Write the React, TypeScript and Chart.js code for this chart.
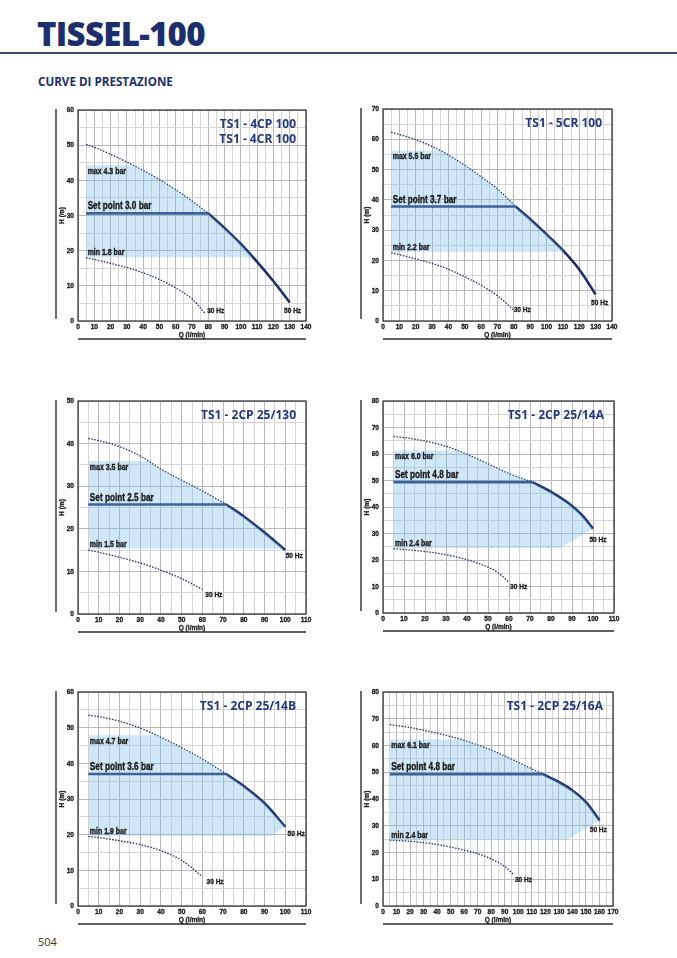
import { useEffect, useRef } from "react";
import { Chart, registerables } from "chart.js";

Chart.register(...registerables);

const NAVY = "#1c2e6c";
const TITLE_BLUE = "#22397c";
const SHADE = "rgba(125, 188, 235, 0.36)";
const BASE = "'Liberation Sans', Arial, sans-serif";
const WIDE = "'Open Sans', 'Noto Sans', sans-serif";
const SQUEEZE = 0.82; // Arial Narrow is Arial at ~82% width

// ---- TS1 - 4CP 100 / 4CR 100
const q50_1 = [5, 10, 20, 30, 40, 50, 60, 70, 80, 90, 100, 110, 120, 130];
const h50_1 = [50.2, 49.4, 47.4, 45.2, 42.8, 40.2, 37.3, 34.1, 30.6, 26.4, 21.9, 16.8, 11.3, 5.3];
const q30_1 = [5, 10, 20, 30, 40, 50, 60, 70, 78];
const h30_1 = [18, 17.5, 16.4, 15.2, 13.7, 11.8, 9.4, 6.3, 2.2];

// ---- TS1 - 5CR 100
const q50_2 = [5, 10, 20, 30, 40, 50, 60, 70, 81, 90, 100, 110, 120, 130];
const h50_2 = [62.3, 61.6, 59.9, 57.6, 54.8, 51.4, 47.6, 43.6, 37.8, 33.6, 28.6, 23.3, 17.0, 8.8];
const q30_2 = [5, 10, 20, 30, 40, 50, 60, 70, 80];
const h30_2 = [22.5, 21.9, 20.5, 19, 17.1, 14.6, 11.8, 8.3, 3.6];

// ---- TS1 - 2CP 25/130
const q50_3 = [5, 10, 20, 30, 40, 50, 60, 71.5, 80, 90, 100];
const h50_3 = [41.2, 40.7, 39.3, 37.1, 34.0, 31.4, 28.9, 25.7, 22.9, 19.1, 15];
const q30_3 = [5, 10, 20, 30, 40, 50, 60];
const h30_3 = [15, 14.5, 13.3, 12, 10.3, 8.3, 5.8];

// ---- TS1 - 2CP 25/14A
const q50_4 = [5, 10, 20, 30, 40, 50, 60, 71, 80, 90, 95, 100];
const h50_4 = [66.6, 66.2, 64.9, 62.9, 59.9, 56.3, 52.6, 49.4, 45.7, 40.4, 36.7, 31.8];
const q30_4 = [5, 10, 20, 30, 40, 50, 55, 60];
const h30_4 = [24.3, 24, 23.2, 22, 20.1, 17.3, 15.1, 11.6];

// ---- TS1 - 2CP 25/14B
const q50_5 = [5, 10, 20, 30, 40, 50, 60, 71.5, 80, 90, 100];
const h50_5 = [53.5, 53.1, 51.8, 49.9, 47.3, 44.4, 41.2, 37, 33.6, 28.8, 22.2];
const q30_5 = [5, 10, 20, 30, 40, 50, 60];
const h30_5 = [19.5, 19.2, 18.3, 17.2, 15.5, 12.8, 8.2];

// ---- TS1 - 2CP 25/16A
const q50_6 = [5, 20, 40, 60, 80, 100, 118, 130, 140, 150, 160];
const h50_6 = [67.8, 66.7, 64.6, 61.9, 58.3, 53.7, 49.3, 46.3, 43.2, 38.8, 32];
const q30_6 = [5, 20, 40, 60, 70, 80, 90, 96];
const h30_6 = [24.6, 24.2, 23, 20.9, 19.6, 17.6, 14.8, 12];

type PanelDef = {
  title: string[];
  xMax: number;
  yMax: number;
  q50: number[];
  h50: number[];
  q30: number[];
  h30: number[];
  setPoint: number;
  breakQ: number;
  maxLevel: number;
  minLevel: number;
  cornerQ: number | null;
  maxText: string;
  setText: string;
  minText: string;
  hz30: [number, number];
  hz50: [number, number];
};

const PANELS: PanelDef[] = [
  {
    title: ["TS1 - 4CP 100", "TS1 - 4CR 100"],
    xMax: 140, yMax: 60, q50: q50_1, h50: h50_1, q30: q30_1, h30: h30_1,
    setPoint: 30.6, breakQ: 80, maxLevel: 44.3, minLevel: 18.1, cornerQ: null,
    maxText: "max 4.3 bar", setText: "Set point 3.0 bar", minText: "min 1.8 bar",
    hz30: [79.3, 2.2], hz50: [126.5, 2.2],
  },
  {
    title: ["TS1 - 5CR 100"],
    xMax: 140, yMax: 70, q50: q50_2, h50: h50_2, q30: q30_2, h30: h30_2,
    setPoint: 37.8, breakQ: 81, maxLevel: 56.2, minLevel: 22.9, cornerQ: null,
    maxText: "max 5.5 bar", setText: "Set point 3.7 bar", minText: "min 2.2 bar",
    hz30: [79.9, 2.9], hz50: [127.2, 5.4],
  },
  {
    title: ["TS1 - 2CP 25/130"],
    xMax: 110, yMax: 50, q50: q50_3, h50: h50_3, q30: q30_3, h30: h30_3,
    setPoint: 25.7, breakQ: 71.5, maxLevel: 35.9, minLevel: 15.3, cornerQ: null,
    maxText: "max 3.5 bar", setText: "Set point 2.5 bar", minText: "min 1.5 bar",
    hz30: [61.4, 4.1], hz50: [100.2, 13.2],
  },
  {
    title: ["TS1 - 2CP 25/14A"],
    xMax: 110, yMax: 80, q50: q50_4, h50: h50_4, q30: q30_4, h30: h30_4,
    setPoint: 49.4, breakQ: 71, maxLevel: 61.3, minLevel: 24.5, cornerQ: 84.5,
    maxText: "max 6.0 bar", setText: "Set point 4.8 bar", minText: "min 2.4 bar",
    hz30: [60.5, 9.2], hz50: [98.3, 26.8],
  },
  {
    title: ["TS1 - 2CP 25/14B"],
    xMax: 110, yMax: 60, q50: q50_5, h50: h50_5, q30: q30_5, h30: h30_5,
    setPoint: 37, breakQ: 71.5, maxLevel: 47.9, minLevel: 19.7, cornerQ: 93.5,
    maxText: "max 4.7 bar", setText: "Set point 3.6 bar", minText: "min 1.9 bar",
    hz30: [62, 6.2], hz50: [101.1, 19.7],
  },
  {
    title: ["TS1 - 2CP 25/16A"],
    xMax: 170, yMax: 80, q50: q50_6, h50: h50_6, q30: q30_6, h30: h30_6,
    setPoint: 49.3, breakQ: 118, maxLevel: 62.2, minLevel: 24.7, cornerQ: 135.5,
    maxText: "max 6.1 bar", setText: "Set point 4.8 bar", minText: "min 2.4 bar",
    hz30: [97.5, 9.1], hz50: [152.8, 27.6],
  },
];

// plot areas on the page
const FRAMES = [
  { left: 78, top: 110, right: 306, bottom: 321 },
  { left: 383, top: 109, right: 612, bottom: 321 },
  { left: 78, top: 401, right: 306, bottom: 614 },
  { left: 383, top: 401, right: 614, bottom: 613 },
  { left: 78, top: 692, right: 306, bottom: 906 },
  { left: 383, top: 692, right: 613, bottom: 906 },
];

const font = (size: number) => `bold ${size}px ${BASE}`;

const pts = (q: number[], h: number[]) => q.map((v, i) => ({ x: v, y: h[i] }));

function shadeTop(q: number[], h: number[], hi: number, lo: number) {
  const out = [{ x: q[0], y: Math.min(hi, h[0]) }];
  for (let i = 1; i < q.length; i++) {
    const a = h[i - 1];
    const b = h[i];
    if (a > hi && b <= hi) {
      out.push({ x: q[i - 1] + ((q[i] - q[i - 1]) * (a - hi)) / (a - b), y: hi });
    }
    if (b < lo) {
      out.push({ x: q[i - 1] + ((q[i] - q[i - 1]) * (a - lo)) / (a - b), y: lo });
      break;
    }
    if (b <= hi) out.push({ x: q[i], y: b });
  }
  return out;
}

function shadeBottom(q: number[], h: number[], lo: number, cornerQ: number | null) {
  const last = q.length - 1;
  if (cornerQ === null) {
    for (let i = 1; i < q.length; i++) {
      if (h[i] < lo) {
        const cx = q[i - 1] + ((q[i] - q[i - 1]) * (h[i - 1] - lo)) / (h[i - 1] - h[i]);
        return [{ x: q[0], y: lo }, { x: cx, y: lo }];
      }
    }
    return [{ x: q[0], y: lo }, { x: q[last], y: lo }];
  }
  return [
    { x: q[0], y: lo },
    { x: cornerQ, y: lo },
    { x: q[last], y: h[last] },
  ];
}

// narrow heavy text: Liberation Sans squeezed horizontally, lightly stroked
function narrow(ctx: CanvasRenderingContext2D, text: string, x: number, y: number, align: CanvasTextAlign, baseline: CanvasTextBaseline) {
  ctx.save();
  ctx.translate(x, y);
  ctx.scale(SQUEEZE, 1);
  ctx.textAlign = align;
  ctx.textBaseline = baseline;
  ctx.strokeStyle = ctx.fillStyle as string;
  ctx.lineWidth = 0.35;
  ctx.fillText(text, 0, 0);
  ctx.strokeText(text, 0, 0);
  ctx.restore();
}

const decor = (p: PanelDef) => ({
  id: "decor",
  afterDraw(chart: any) {
    const { ctx, chartArea: a } = chart;
    const x = chart.scales.x;
    const y = chart.scales.y;
    ctx.save();
    ctx.strokeStyle = "#2b2b2b";
    ctx.lineWidth = 1.2;
    ctx.strokeRect(a.left, a.top, a.right - a.left, a.bottom - a.top);

    ctx.strokeStyle = "#4a4a4a";
    ctx.lineWidth = 1.6;
    ctx.beginPath();
    ctx.moveTo(a.left - 22, a.top - 1);
    ctx.lineTo(a.left - 22, a.bottom - 2);
    ctx.stroke();
    ctx.strokeStyle = "#2b2b2b";
    ctx.beginPath();
    ctx.moveTo(a.left, a.bottom + 18);
    ctx.lineTo(a.right, a.bottom + 18);
    ctx.stroke();

    // tick labels taken from the scales' own ticks
    ctx.fillStyle = "#1a1a1a";
    ctx.font = font(8);
    x.ticks.forEach((t: any) => {
      if (t.label) narrow(ctx, String(t.label), x.getPixelForValue(t.value), a.bottom + 1.5, "center", "top");
    });
    y.ticks.forEach((t: any) => {
      if (t.label) narrow(ctx, String(t.label), a.left - 4, y.getPixelForValue(t.value), "right", "middle");
    });

    narrow(ctx, "Q (l/min)", (a.left + a.right) / 2, a.bottom + 13.5, "center", "middle");
    ctx.save();
    ctx.translate(a.left - 16.5, (a.top + a.bottom) / 2);
    ctx.rotate(-Math.PI / 2);
    narrow(ctx, "H (m)", 0, 0, "center", "middle");
    ctx.restore();

    ctx.fillStyle = TITLE_BLUE;
    ctx.font = `bold 12px ${WIDE}`;
    ctx.textAlign = "right";
    ctx.textBaseline = "alphabetic";
    p.title.forEach((t, i) => ctx.fillText(t, a.right - 10, a.top + 18 + i * 15));

    ctx.fillStyle = "#1a1a1a";
    const lx = x.getPixelForValue(p.q50[0]) + 1.5;
    ctx.font = font(8.5);
    narrow(ctx, p.maxText, lx, y.getPixelForValue(p.maxLevel) + 8.5, "left", "alphabetic");
    narrow(ctx, p.minText, lx, y.getPixelForValue(p.minLevel) - 2, "left", "alphabetic");
    ctx.font = font(8);
    narrow(ctx, "30 Hz", x.getPixelForValue(p.hz30[0]), y.getPixelForValue(p.hz30[1]), "left", "alphabetic");
    narrow(ctx, "50 Hz", x.getPixelForValue(p.hz50[0]), y.getPixelForValue(p.hz50[1]), "left", "alphabetic");
    ctx.font = font(10);
    narrow(ctx, p.setText, lx, y.getPixelForValue(p.setPoint) - 4, "left", "alphabetic");
    ctx.restore();
  },
});

function Panel({ def, frame }: { def: PanelDef; frame: (typeof FRAMES)[number] }) {
  const canvasRef = useRef<HTMLCanvasElement>(null);

  useEffect(() => {
    if (!canvasRef.current) return;
    const p = def;
    const curve = pts(p.q50, p.h50);
    const dotted50 = curve.filter((d) => d.x <= p.breakQ);
    const solid50 = curve.filter((d) => d.x >= p.breakQ);
    const gridColor = (c: any) => (c.tick && c.tick.value % 10 === 0 ? "#b8b8b8" : "#d6d6d6");
    const tenLabel = (v: any) => (Number(v) % 10 === 0 ? String(v) : "");

    const chart = new Chart(canvasRef.current, {
      type: "line",
      data: {
        datasets: [
          {
            data: shadeTop(p.q50, p.h50, p.maxLevel, p.minLevel),
            borderWidth: 0,
            pointRadius: 0,
            backgroundColor: SHADE,
            fill: "+1",
          },
          {
            data: shadeBottom(p.q50, p.h50, p.minLevel, p.cornerQ),
            borderWidth: 0,
            pointRadius: 0,
            fill: false,
          },
          {
            data: dotted50,
            borderColor: NAVY,
            borderWidth: 1.3,
            borderDash: [1.5, 1.5],
            pointRadius: 0,
            cubicInterpolationMode: "monotone",
            fill: false,
          },
          {
            data: [
              { x: p.q50[0], y: p.setPoint },
              { x: p.breakQ, y: p.setPoint },
            ],
            borderColor: NAVY,
            borderWidth: 2.6,
            pointRadius: 0,
            fill: false,
          },
          {
            data: solid50,
            borderColor: NAVY,
            borderWidth: 2.6,
            pointRadius: 0,
            cubicInterpolationMode: "monotone",
            fill: false,
          },
          {
            data: pts(p.q30, p.h30),
            borderColor: NAVY,
            borderWidth: 1.3,
            borderDash: [1.5, 1.5],
            pointRadius: 0,
            cubicInterpolationMode: "monotone",
            fill: false,
          },
        ],
      },
      options: {
        responsive: true,
        maintainAspectRatio: false,
        animation: false,
        layout: { padding: { left: 28, top: 12, right: 12, bottom: 10 } },
        plugins: { legend: { display: false }, tooltip: { enabled: false } },
        scales: {
          x: {
            type: "linear",
            min: 0,
            max: p.xMax,
            afterFit: (s: any) => {
              s.height = 12;
            },
            border: { display: false },
            grid: { color: gridColor, lineWidth: 1, drawTicks: false },
            ticks: { stepSize: 5, autoSkip: false, display: false, callback: tenLabel },
          },
          y: {
            type: "linear",
            min: 0,
            max: p.yMax,
            afterFit: (s: any) => {
              s.width = 22;
            },
            border: { display: false },
            grid: { color: gridColor, lineWidth: 1, drawTicks: false },
            ticks: { stepSize: 5, autoSkip: false, display: false, callback: tenLabel },
          },
        },
      },
      plugins: [decor(p)],
    });

    return () => chart.destroy();
  }, [def]);

  const w = frame.right - frame.left + 62;
  const h = frame.bottom - frame.top + 34;
  return (
    <div
      style={{
        position: "absolute",
        left: frame.left - 50,
        top: frame.top - 12,
        width: w,
        height: h,
      }}
    >
      <canvas ref={canvasRef}></canvas>
    </div>
  );
}

export default function App() {
  return (
    <div
      style={{
        position: "absolute",
        left: 0,
        top: 0,
        width: 677,
        height: 958,
        background: "#fff",
        overflow: "hidden",
      }}
    >
      <div
        style={{
          position: "absolute",
          left: 37,
          top: 17,
          fontFamily: WIDE,
          fontWeight: 800,
          fontSize: 33,
          lineHeight: "34px",
          color: NAVY,
          letterSpacing: -0.7,
          whiteSpace: "nowrap",
        }}
      >
        TISSEL-100
      </div>
      <div
        style={{
          position: "absolute",
          left: 0,
          top: 52,
          width: 677,
          height: 2,
          background: "#3d4a69",
        }}
      />
      <div
        style={{
          position: "absolute",
          left: 38,
          top: 76,
          fontFamily: WIDE,
          fontWeight: 700,
          fontSize: 12.5,
          lineHeight: "12.5px",
          color: NAVY,
          whiteSpace: "nowrap",
          transform: "scaleX(0.93)",
          transformOrigin: "left",
        }}
      >
        CURVE DI PRESTAZIONE
      </div>
      {PANELS.map((p, i) => (
        <Panel key={i} def={p} frame={FRAMES[i]} />
      ))}
      <div
        style={{
          position: "absolute",
          left: 38,
          top: 936,
          fontFamily: WIDE,
          fontSize: 11,
          lineHeight: "11px",
          color: "#333",
        }}
      >
        504
      </div>
    </div>
  );
}
